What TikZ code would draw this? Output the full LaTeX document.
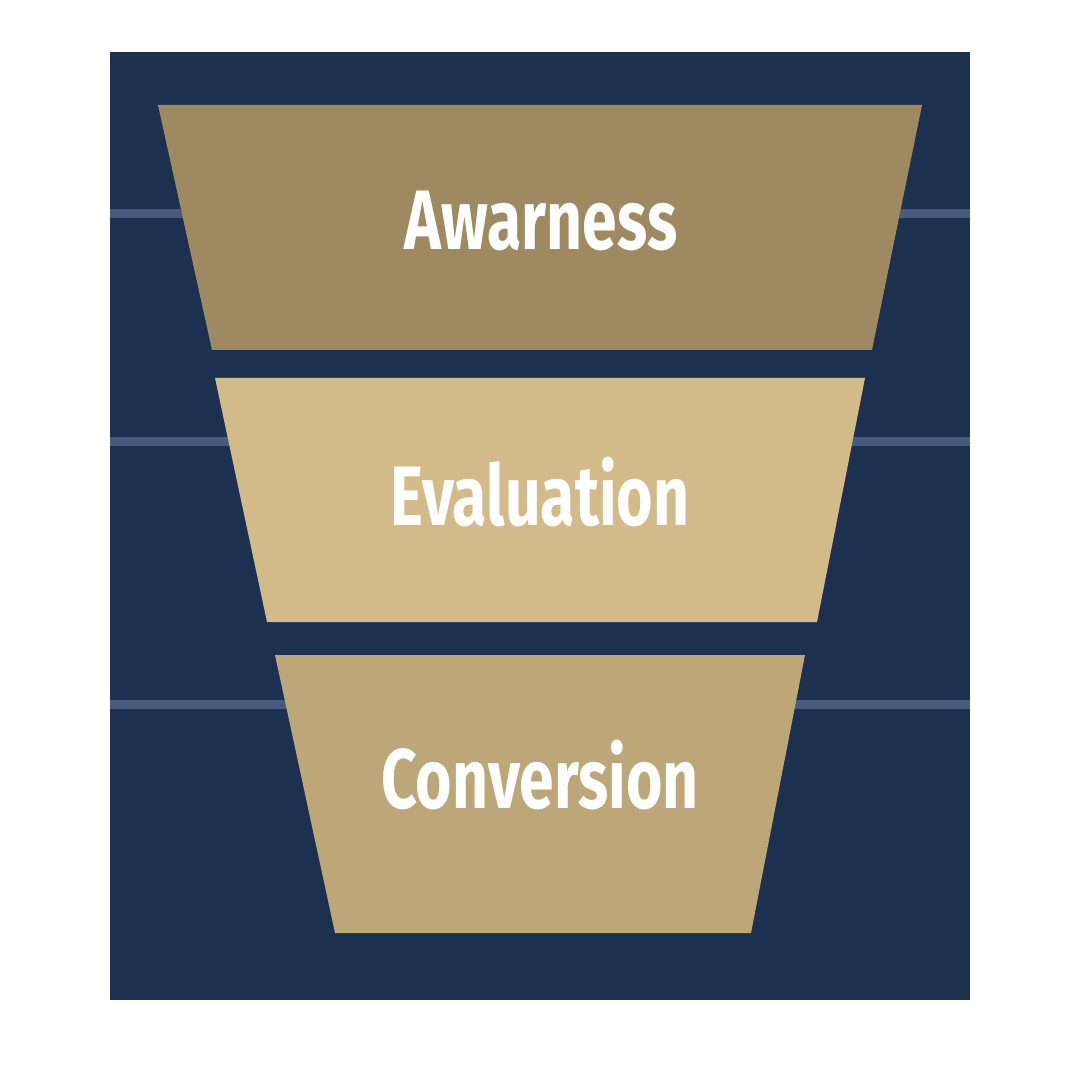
\documentclass[tikz,border=0pt]{standalone}
\usepackage{fontspec}
\newfontfamily\stagefont[FakeStretch=0.74]{Fira Sans}
\usetikzlibrary{positioning}

\definecolor{navy}{HTML}{1C3050}
\definecolor{guideline}{HTML}{485A7D}
\definecolor{goldDark}{HTML}{9F8961}
\definecolor{goldLight}{HTML}{D3BA89}
\definecolor{goldMid}{HTML}{BDA678}

\begin{document}
\begin{tikzpicture}[
    x=0.01cm, y=-0.01cm,
    guide/.style={draw=guideline, line width=0.085cm},
    stage/.style={draw=none},
    label/.style={text=white, anchor=base, inner sep=0pt, font=\stagefont\bfseries\fontsize{24}{24}\selectfont}
]
    \useasboundingbox (0,0) rectangle (1080,1080);

    % Background panel
    \fill[navy] (110,52) rectangle (970,1000);

    % Guide lines
    \draw[guide] (110,213.5) -- (970,213.5);
    \draw[guide] (110,441.5) -- (970,441.5);
    \draw[guide] (110,704.5) -- (970,704.5);

    % Funnel stages
    \fill[stage, goldDark] (158,105) -- (922,105) -- (872,350) -- (212,350) -- cycle;
    \fill[stage, goldLight] (215,378) -- (865,378) -- (817,622) -- (267,622) -- cycle;
    \fill[stage, goldMid] (275,655) -- (805,655) -- (751,933) -- (335,933) -- cycle;

    % Labels
    \node[label] (awareness) at (541,250) {Awarness};
    \node[label] (evaluation) at (540,525) {Evaluation};
    \node[label] (conversion) at (540,808) {Conversion};

\end{tikzpicture}
\end{document}
